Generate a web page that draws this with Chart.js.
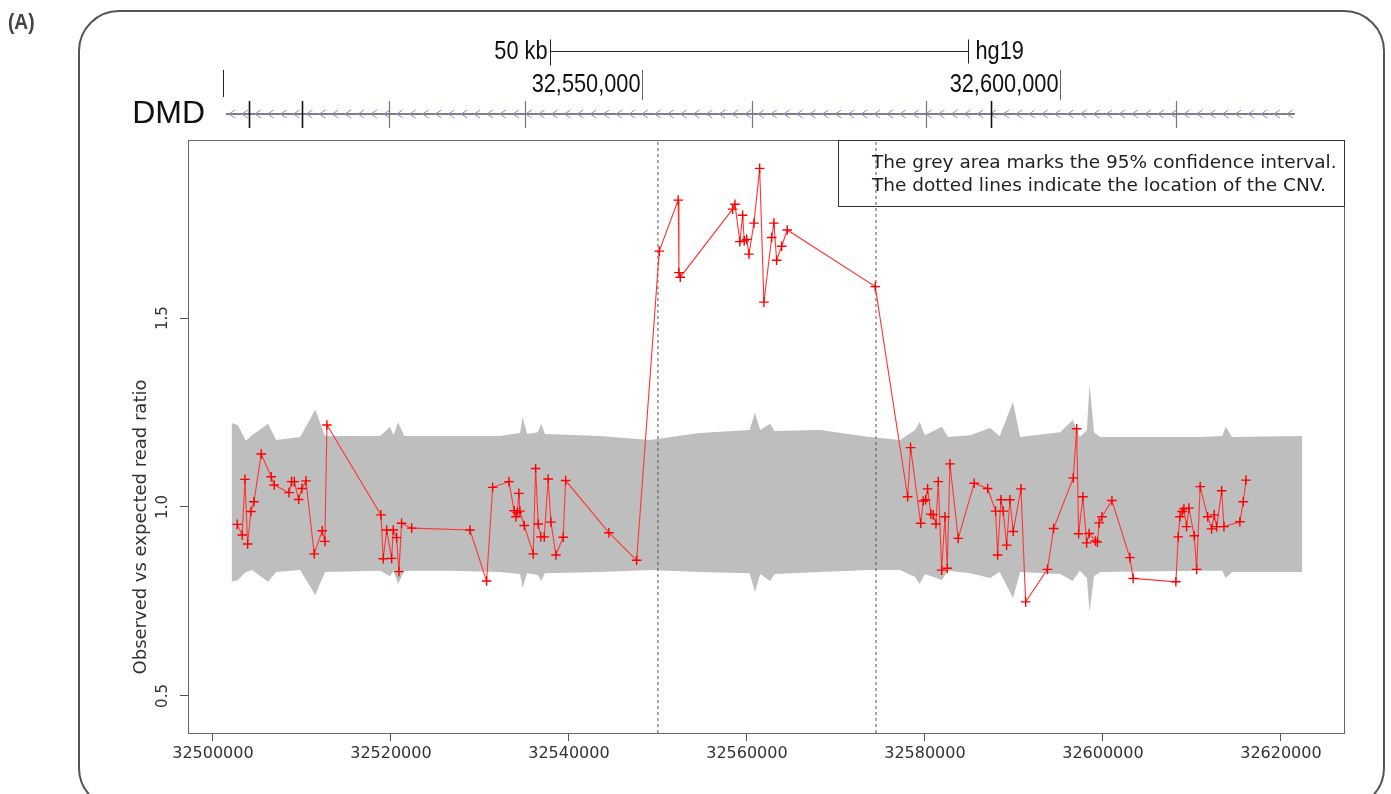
<!DOCTYPE html>
<html lang="en">
  <head>
    <meta charset="UTF-8" />
    <title>DMD read ratio</title>
    <script src="https://cdn.jsdelivr.net/npm/chart.js"></script>
    <style>
      html,
      body {
        margin: 0;
        padding: 0;
        background: #fff;
      }
      #wrap {
        position: relative;
        width: 1391px;
        height: 794px;
      }
    </style>
  </head>
  <body>
    <div id="wrap"><canvas id="cnv"></canvas></div>

    <script>
      // probe positions (bp, chrX hg19) and observed / expected read ratio
      const positions = [
        32502730, 32503290, 32503600, 32503900, 32504270, 32504610, 32505430, 32506550, 32506890, 32508540,
        32508840, 32509140, 32509630, 32510000, 32510450, 32511380, 32512280, 32512580, 32512810, 32518880,
        32519140, 32519520, 32520080, 32520260, 32520640, 32520900, 32521200, 32522330, 32528880, 32530750,
        32531430, 32533260, 32533850, 32534050, 32534190, 32534380, 32534490, 32534980, 32535990, 32536260,
        32536550, 32536850, 32537230, 32537670, 32537980, 32538540, 32539360, 32539630, 32544490, 32547610,
        32550150, 32552280, 32552360, 32552510, 32558390, 32558650, 32559210, 32559520, 32559700, 32559970,
        32560230, 32560790, 32561430, 32561910, 32562780, 32563030, 32563340, 32563900, 32564530, 32574420,
        32578060, 32578390, 32579520, 32579810, 32580080, 32580300, 32580670, 32580930, 32581240, 32581500,
        32581880, 32582250, 32582510, 32582810, 32583740, 32585540, 32587050, 32587940, 32588170, 32588540,
        32588800, 32589180, 32589550, 32589920, 32590790, 32591320, 32593770, 32594460, 32596670, 32597050,
        32597270, 32597750, 32598170, 32598450, 32599150, 32599380, 32599580, 32599890, 32601010, 32603030,
        32603400, 32608200, 32608460, 32608650, 32608910, 32609100, 32609400, 32609660, 32610260, 32610530,
        32610930, 32611770, 32612210, 32612510, 32612780, 32613340, 32613600, 32615390, 32615770, 32616070,
      ];
      const ratios = [
        0.954, 0.926, 1.073, 0.902, 0.988, 1.014, 1.14, 1.08, 1.058, 1.038,
        1.067, 1.067, 1.02, 1.049, 1.069, 0.876, 0.937, 0.909, 1.217, 0.979,
        0.863, 0.939, 0.864, 0.939, 0.919, 0.829, 0.957, 0.944, 0.939, 0.804,
        1.052, 1.067, 0.99, 0.974, 0.985, 1.036, 0.989, 0.951, 0.876, 1.102,
        0.955, 0.921, 0.921, 1.074, 0.96, 0.873, 0.92, 1.07, 0.932, 0.859,
        1.677, 1.812, 1.62, 1.608, 1.788, 1.801, 1.702, 1.772, 1.704, 1.708,
        1.669, 1.751, 1.896, 1.542, 1.713, 1.751, 1.653, 1.69, 1.733, 1.583,
        1.027, 1.157, 0.957, 1.016, 1.019, 1.048, 0.981, 0.979, 0.955, 1.067,
        0.833, 0.974, 0.838, 1.114, 0.917, 1.063, 1.049, 0.989, 0.873, 1.019,
        0.989, 0.899, 1.019, 0.935, 1.048, 0.749, 0.835, 0.943, 1.077, 1.207,
        0.929, 1.027, 0.905, 0.93, 0.91, 0.907, 0.958, 0.974, 1.017, 0.866,
        0.811, 0.802, 0.921, 0.974, 0.988, 0.995, 0.948, 0.997, 0.924, 0.835,
        1.054, 0.974, 0.942, 0.979, 0.948, 1.043, 0.948, 0.961, 1.014, 1.071,
      ];

      // 95% confidence interval (grey area)
      const bandPositions = [
        32502100, 32502800, 32503700, 32504400, 32506200, 32507100, 32509800, 32511500, 32512600, 32518800,
        32519900, 32520300, 32520800, 32521500, 32526600, 32532200, 32534500, 32534800, 32535300, 32536500,
        32536900, 32537300, 32543500, 32549100, 32554700, 32560300, 32560900, 32561500, 32562600, 32563100,
        32568200, 32573800, 32577200, 32578900, 32579400, 32580000, 32581900, 32582600, 32585100, 32587300,
        32588400, 32589900, 32590700, 32595200, 32596600, 32597400, 32598200, 32598500, 32599000, 32599700,
        32610900, 32613400, 32613800, 32614500, 32622400,
      ];
      const bandUpper = [
        1.222, 1.217, 1.175, 1.19, 1.22, 1.177, 1.185, 1.257, 1.188, 1.188,
        1.212, 1.19, 1.225, 1.188, 1.188, 1.188, 1.196, 1.238, 1.193, 1.198,
        1.22, 1.193, 1.188, 1.177, 1.196, 1.204, 1.249, 1.204, 1.22, 1.201,
        1.204, 1.185, 1.177, 1.204, 1.225, 1.19, 1.212, 1.185, 1.19, 1.209,
        1.188, 1.278, 1.185, 1.198, 1.23, 1.185, 1.204, 1.325, 1.198, 1.185,
        1.185, 1.188, 1.212, 1.185, 1.188,
      ];
      const bandLower = [
        0.802, 0.807, 0.828, 0.833, 0.802, 0.828, 0.833, 0.767, 0.828, 0.831,
        0.817, 0.831, 0.796, 0.831, 0.831, 0.828, 0.823, 0.786, 0.825, 0.82,
        0.804, 0.825, 0.828, 0.833, 0.828, 0.825, 0.775, 0.823, 0.804, 0.823,
        0.828, 0.833, 0.833, 0.815, 0.796, 0.823, 0.807, 0.831, 0.825, 0.812,
        0.828, 0.759, 0.828, 0.823, 0.804, 0.831, 0.812, 0.722, 0.817, 0.828,
        0.831, 0.831, 0.812, 0.828, 0.828,
      ];

      const cnvBounds = [32550000, 32574500];
      const xTicks = [32500000, 32520000, 32540000, 32560000, 32580000, 32600000, 32620000];
      const yTicks = [0.5, 1.0, 1.5];
      const xRange = [32497200, 32627200];
      const yRange = [0.402, 1.971];
      const yTitle = "Observed vs expected read ratio";

      // UCSC style gene track above the plot
      const trackRange = [32495700, 32634100];
      const geneName = "DMD";
      const geneSpan = [32500250, 32628100];
      const exonMarks = [32503000, 32509340, 32519740, 32536010, 32563160, 32583970, 32591740, 32613870];
      const exonDark = [true, true, false, false, false, false, true, false];
      const windowStart = 32499900;
      const trackTicks = [32550000, 32600000];
      const trackTickLabels = ["32,550,000", "32,600,000"];
      const scaleBar = [32539000, 32589000];
      const scaleBarLabel = "50 kb";
      const assembly = "hg19";

      const legendLines = [
        "The grey area marks the 95% confidence interval.",
        "The dotted lines indicate the location of the CNV.",
      ];
      const panelLabel = "(A)";

      // narrow text: the track labels are set in a condensed face
      function narrowText(ctx, text, x, y, align) {
        ctx.save();
        ctx.translate(x, y);
        ctx.scale(0.87, 1);
        ctx.textAlign = align;
        ctx.fillText(text, 0, 0);
        ctx.restore();
      }

      const decor = {
        id: "decor",
        beforeDraw(chart) {
          const ctx = chart.ctx;
          ctx.save();
          ctx.fillStyle = "#fff";
          ctx.fillRect(0, 0, chart.width, chart.height);
          ctx.restore();
        },
        afterDraw(chart) {
          const ctx = chart.ctx;
          const { left, right, top, bottom } = chart.chartArea;
          const ys = chart.scales.y;
          const g = (v) => chart.scales.xg.getPixelForValue(v);
          ctx.save();

          // plot box
          ctx.strokeStyle = "#666";
          ctx.lineWidth = 1;
          ctx.strokeRect(left + 0.5, top + 0.5, right - left - 1, bottom - top);

          // y tick labels, parallel to the axis as in R
          ctx.fillStyle = "#333";
          ctx.font = '15px "DejaVu Sans"';
          ctx.textAlign = "center";
          ctx.textBaseline = "middle";
          yTicks.forEach((v) => {
            ctx.save();
            ctx.translate(left - 25, ys.getPixelForValue(v));
            ctx.rotate(-Math.PI / 2);
            ctx.fillText(v.toFixed(1), 0, 0);
            ctx.restore();
          });

          // y axis title
          ctx.save();
          ctx.font = '18px "DejaVu Sans"';
          ctx.translate(141, top + 387);
          ctx.rotate(-Math.PI / 2);
          ctx.fillText(yTitle, 0, 0);
          ctx.restore();

          // legend box
          ctx.font = '18.5px "DejaVu Sans"';
          const bw = 507;
          ctx.strokeStyle = "#333";
          ctx.strokeRect(right - bw + 0.5, top + 0.5, bw - 1, 66);
          ctx.fillStyle = "#222";
          ctx.textAlign = "left";
          legendLines.forEach((t, i) => ctx.fillText(t, right - bw + 34, top + 23 + i * 23));

          // gene track
          const gy = top - 26;
          ctx.strokeStyle = "#555";
          ctx.lineWidth = 1.5;
          ctx.beginPath();
          ctx.moveTo(g(geneSpan[0]), gy);
          ctx.lineTo(g(geneSpan[1]), gy);
          ctx.stroke();
          ctx.strokeStyle = "#8c8cd2";
          ctx.lineWidth = 1;
          ctx.beginPath();
          for (let px = g(geneSpan[0]) + 6; px < g(geneSpan[1]) - 4; px += 12.9) {
            ctx.moveTo(px + 3, gy - 4);
            ctx.lineTo(px - 3, gy);
            ctx.lineTo(px + 3, gy + 4);
          }
          ctx.stroke();
          exonMarks.forEach((bp, i) => {
            const px = Math.round(g(bp)) + 0.5;
            ctx.strokeStyle = exonDark[i] ? "#111" : "#777";
            ctx.lineWidth = exonDark[i] ? 1.6 : 1.2;
            ctx.beginPath();
            ctx.moveTo(px, gy - 13);
            ctx.lineTo(px, gy + 14);
            ctx.stroke();
          });
          ctx.fillStyle = "#111";
          ctx.font = '32px "Liberation Sans"';
          ctx.textAlign = "right";
          ctx.fillText(geneName, 205, gy);

          // window start and coordinate ticks
          ctx.strokeStyle = "#222";
          ctx.lineWidth = 1;
          let px = Math.round(g(windowStart)) + 0.5;
          ctx.beginPath();
          ctx.moveTo(px, top - 70);
          ctx.lineTo(px, top - 43);
          ctx.stroke();
          ctx.font = '25px "Liberation Sans"';
          trackTicks.forEach((bp, i) => {
            const tx = Math.round(g(bp)) + 0.5;
            ctx.strokeStyle = "#666";
            ctx.beginPath();
            ctx.moveTo(tx, top - 70);
            ctx.lineTo(tx, top - 40);
            ctx.stroke();
            narrowText(ctx, trackTickLabels[i], tx - 2, top - 55, "right");
          });

          // scale bar
          const sy = top - 88.5;
          const s0 = Math.round(g(scaleBar[0])) + 0.5;
          const s1 = Math.round(g(scaleBar[1])) + 0.5;
          ctx.strokeStyle = "#222";
          ctx.beginPath();
          ctx.moveTo(s0, sy);
          ctx.lineTo(s1, sy);
          ctx.moveTo(s0, sy - 12);
          ctx.lineTo(s0, sy + 14);
          ctx.moveTo(s1, sy - 12);
          ctx.lineTo(s1, sy + 12);
          ctx.stroke();
          narrowText(ctx, scaleBarLabel, s0 - 3, sy + 1, "right");
          narrowText(ctx, assembly, s1 + 7, sy + 1, "left");

          // outer rounded frame and panel label
          ctx.strokeStyle = "#555";
          ctx.lineWidth = 2;
          const fx0 = 79, fy0 = 11, fx1 = 1384, fy1 = 808, r = 40;
          ctx.beginPath();
          ctx.moveTo(fx0, fy1 - r);
          ctx.arcTo(fx0, fy0, fx0 + r, fy0, r);
          ctx.arcTo(fx1, fy0, fx1, fy0 + r, r);
          ctx.arcTo(fx1, fy1, fx1 - r, fy1, r);
          ctx.arcTo(fx0, fy1, fx0, fy1 - r, r);
          ctx.closePath();
          ctx.stroke();
          ctx.fillStyle = "#444";
          ctx.font = 'bold 22px "Liberation Sans"';
          ctx.textAlign = "left";
          narrowText(ctx, panelLabel, 8, 23, "left");

          ctx.restore();
        },
      };

      const xy = (xs, ys) => xs.map((x, i) => ({ x: x, y: ys[i] }));
      const gridOpts = { drawOnChartArea: false, drawTicks: true, tickLength: 8, color: "#555" };

      new Chart(document.getElementById("cnv"), {
        type: "line",
        data: {
          datasets: [
            {
              label: "ratio",
              data: xy(positions, ratios),
              borderColor: "#ff3535",
              borderWidth: 1.1,
              pointStyle: "cross",
              pointRadius: 4.8,
              pointBorderColor: "#ff0000",
              pointBorderWidth: 1.4,
              fill: false,
              tension: 0,
              order: 0,
            },
            {
              label: "cnv start",
              data: xy([cnvBounds[0], cnvBounds[0]], yRange),
              borderColor: "#555",
              borderDash: [3, 3],
              borderWidth: 1,
              pointRadius: 0,
              fill: false,
              order: 1,
            },
            {
              label: "cnv end",
              data: xy([cnvBounds[1], cnvBounds[1]], yRange),
              borderColor: "#555",
              borderDash: [3, 3],
              borderWidth: 1,
              pointRadius: 0,
              fill: false,
              order: 1,
            },
            {
              label: "upper",
              data: xy(bandPositions, bandUpper),
              borderColor: "rgba(0,0,0,0)",
              borderWidth: 0,
              pointRadius: 0,
              backgroundColor: "#bebebe",
              fill: "+1",
              tension: 0,
              order: 3,
            },
            {
              label: "lower",
              data: xy(bandPositions, bandLower),
              borderColor: "rgba(0,0,0,0)",
              borderWidth: 0,
              pointRadius: 0,
              fill: false,
              tension: 0,
              order: 3,
            },
          ],
        },
        options: {
          responsive: true,
          maintainAspectRatio: false,
          devicePixelRatio: 1,
          animation: false,
          layout: { padding: { left: 0, top: 140, right: 46, bottom: 0 } },
          plugins: { legend: { display: false }, tooltip: { enabled: false } },
          scales: {
            x: {
              type: "linear",
              min: xRange[0],
              max: xRange[1],
              afterBuildTicks: (s) => {
                s.ticks = xTicks.map((v) => ({ value: v }));
              },
              afterFit: (s) => {
                s.height = 61;
              },
              grid: gridOpts,
              border: { display: false },
              ticks: {
                color: "#333",
                font: { family: "DejaVu Sans", size: 16 },
                padding: 3,
                maxRotation: 0,
                autoSkip: false,
                callback: (v) => String(v),
              },
            },
            xg: {
              type: "linear",
              axis: "x",
              position: "top",
              display: false,
              min: trackRange[0],
              max: trackRange[1],
            },
            y: {
              type: "linear",
              min: yRange[0],
              max: yRange[1],
              afterBuildTicks: (s) => {
                s.ticks = yTicks.map((v) => ({ value: v }));
              },
              afterFit: (s) => {
                s.width = 188;
              },
              grid: gridOpts,
              border: { display: false },
              ticks: { display: false },
            },
          },
        },
        plugins: [decor],
      });
    </script>
  </body>
</html>
